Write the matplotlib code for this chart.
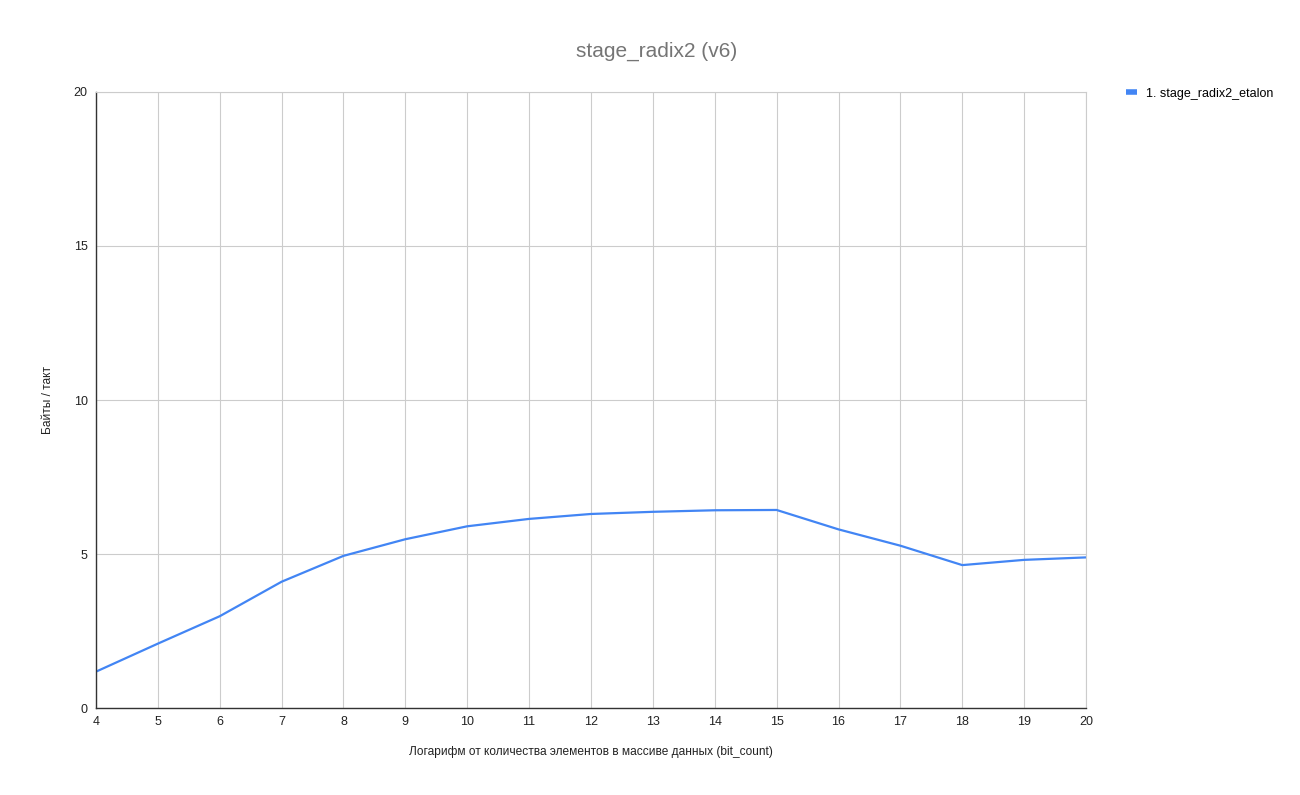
import matplotlib.pyplot as plt
from matplotlib.lines import Line2D

plt.rcParams['font.family'] = ['Liberation Sans', 'DejaVu Sans']

# data
bit_count = [4, 5, 6, 7, 8, 9, 10, 11, 12, 13, 14, 15, 16, 17, 18, 19, 20]
bytes_per_tick = [1.18, 2.09, 2.98, 4.10, 4.94, 5.48, 5.90, 6.14, 6.30, 6.37,
                  6.42, 6.43, 5.80, 5.27, 4.64, 4.81, 4.89]
series_name = '1. stage_radix2_etalon'

fig = plt.figure(figsize=(13, 7.95), dpi=100)
ax = fig.add_axes([0.0738, 0.1094, 0.7616, 0.7749])

ax.plot(bit_count, bytes_per_tick, color='#4285F4', linewidth=1.6)

ax.set_xlim(4, 20)
ax.set_ylim(0, 20)
ax.set_xticks(bit_count)
ax.set_yticks([0, 5, 10, 15, 20])
ax.grid(True, color='#cccccc', linewidth=0.8)
ax.set_axisbelow(True)
ax.tick_params(length=0, labelsize=9, colors='#222222', pad=6)

for s in ['top', 'right']:
    ax.spines[s].set_color('#cccccc')
    ax.spines[s].set_linewidth(0.8)
for s in ['left', 'bottom']:
    ax.spines[s].set_color('#333333')
    ax.spines[s].set_linewidth(1.0)

ax.set_xlabel('Логарифм от количества элементов в массиве данных (bit_count)',
              fontsize=8.6, color='#222222', labelpad=13)
ax.set_ylabel('Байты / такт', fontsize=8.6, color='#222222', labelpad=14)

fig.text(0.505, 0.935, 'stage_radix2 (v6)', ha='center', va='center',
         fontsize=15, color='#757575')

handle = Line2D([], [], color='#4285F4', linewidth=4, solid_capstyle='butt')
fig.legend([handle], [series_name], loc='upper left',
           bbox_to_anchor=(0.862, 0.896), frameon=False, fontsize=9,
           handlelength=0.9, handletextpad=0.7, borderaxespad=0)

fig.savefig('out.png', dpi=100, facecolor='white')
